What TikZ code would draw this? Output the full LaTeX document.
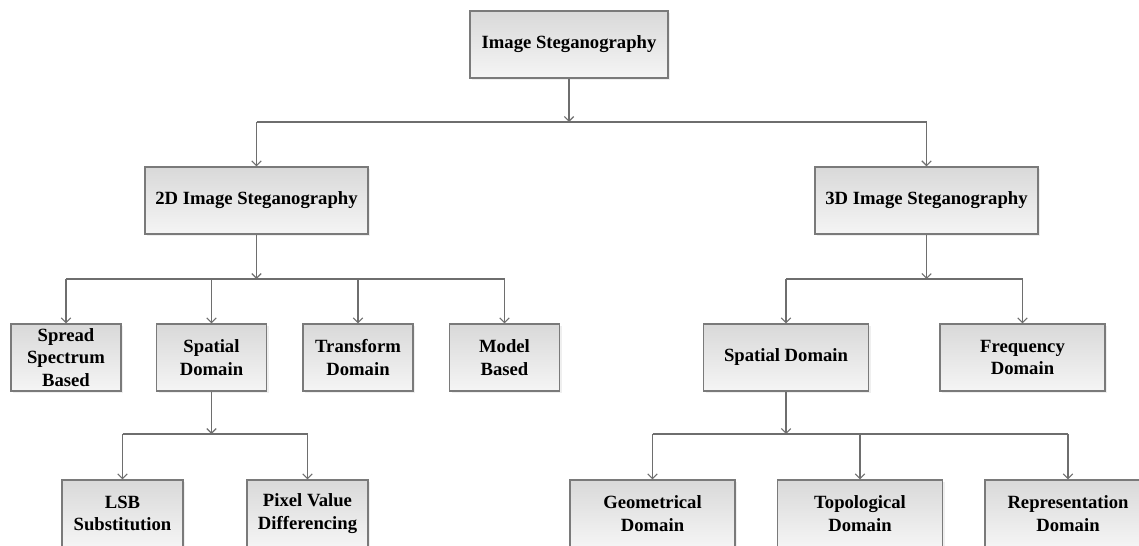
\documentclass[tikz,border=0pt]{standalone}
\usepackage{fontspec}
\setmainfont{Liberation Serif}
\usetikzlibrary{arrows.meta,shadows}
\definecolor{linecol}{HTML}{6E6E6E}
\definecolor{boxborder}{HTML}{7A7A7A}
\tikzset{
  box/.style={rectangle, draw=boxborder, line width=1.1pt, top color=black!15, bottom color=black!4,
    inner sep=0pt, align=center, font=\fontsize{14}{17}\selectfont\bfseries,
    drop shadow={shadow xshift=1.5pt, shadow yshift=-1.5pt, opacity=0.12},
    minimum height=67*0.75pt},
  wa/.style={minimum width=110*0.75pt},
  wb/.style={minimum width=165*0.75pt},
  wc/.style={minimum width=121*0.75pt},
  wd/.style={minimum width=223*0.75pt},
  conn/.style={draw=linecol, line width=0.9pt},
  arr/.style={conn, -{Straight Barb[length=3.5pt,width=7pt,line width=0.8pt]}},
}
\begin{document}
\begin{tikzpicture}[x=0.75pt,y=-0.75pt]
\fill[white] (0,0) rectangle (1139,546);
\useasboundingbox (0,0) rectangle (1139,546);
\clip (0,0) rectangle (1139,546);
% nodes
\node[box, minimum width=198*0.75pt] (top) at (569,44.5) {Image Steganography};
\node[box, wd] (d2) at (256.5,200.5) {2D Image Steganography};
\node[box, wd] (d3) at (926.5,200.5) {3D Image Steganography};
\node[box, wa] (ss) at (66,357.5) {Spread\\Spectrum\\Based};
\node[box, wa] (sp) at (211.5,357.5) {Spatial\\Domain};
\node[box, wa] (tr) at (358,357.5) {Transform\\Domain};
\node[box, wa] (mb) at (504.5,357.5) {Model\\Based};
\node[box, wb] (sp3) at (786,357.5) {Spatial Domain};
\node[box, wb] (fq) at (1022.5,357.5) {Frequency\\Domain};
\node[box, wc] (lsb) at (122.5,513.5) {LSB\\Substitution};
\node[box, wc] (pvd) at (307.5,513.5) {Pixel Value\\Differencing};
\node[box, wb] (geo) at (652.5,513.5) {Geometrical\\Domain};
\node[box, wb] (topo) at (860,513.5) {Topological\\Domain};
\node[box, wb, minimum width=166*0.75pt] (rep) at (1068,513.5) {Representation\\Domain};
% junctions
\coordinate (j0) at (569,122);
\coordinate (j2) at (256.5,279);
\coordinate (j3) at (926.5,279);
\coordinate (j4) at (211.5,434);
\coordinate (j5) at (786,434);
% level 1
\draw[arr] (top.south) -- (j0);
\draw[conn] (j0 -| d2) -- (j0 -| d3);
\draw[arr] (j0 -| d2) -- (d2.north);
\draw[arr] (j0 -| d3) -- (d3.north);
% 2D
\draw[arr] (d2.south) -- (j2);
\draw[conn] (j2 -| ss) -- (j2 -| mb);
\foreach \n in {ss,sp,tr,mb} \draw[arr] (j2 -| \n) -- (\n.north);
% 3D
\draw[arr] (d3.south) -- (j3);
\draw[conn] (j3 -| sp3) -- (j3 -| fq);
\foreach \n in {sp3,fq} \draw[arr] (j3 -| \n) -- (\n.north);
% spatial 2D
\draw[arr] (sp.south) -- (j4);
\draw[conn] (j4 -| lsb) -- (j4 -| pvd);
\foreach \n in {lsb,pvd} \draw[arr] (j4 -| \n) -- (\n.north);
% spatial 3D
\draw[arr] (sp3.south) -- (j5);
\draw[conn] (j5 -| geo) -- (j5 -| rep);
\foreach \n in {geo,topo,rep} \draw[arr] (j5 -| \n) -- (\n.north);
\end{tikzpicture}
\end{document}
